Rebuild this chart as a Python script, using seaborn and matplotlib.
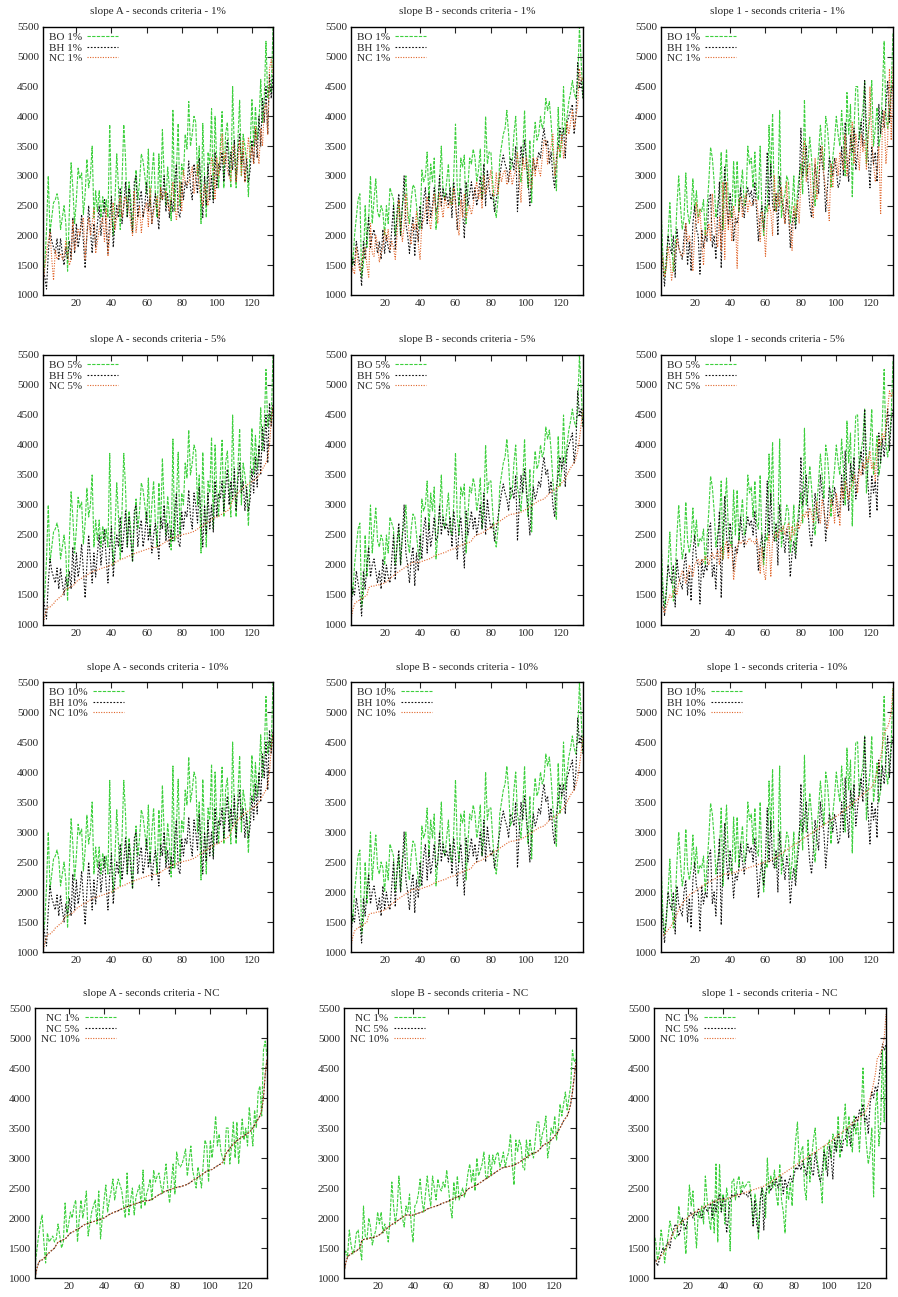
## Rejilla 4x3 de tiempos por instancia (slope A, slope B, slope 1)

import seaborn as sns
import matplotlib.pyplot as plt

# Instancias (eje x)
x = list(range(1, 133))

# Slope A
bo_a = [1300, 1500, 2100, 3000, 2050, 2300, 2550, 2600, 2700, 2550,
        2100, 2300, 2500, 2200, 1400, 2400, 3220, 2800, 2200, 2600,
        3130, 2950, 3050, 2350, 2700, 3280, 2800, 3000, 3500, 2300,
        2750, 2400, 2750, 2300, 2650, 2400, 2600, 2300, 3860, 2500,
        2000, 2600, 3370, 2800, 2100, 2900, 3860, 3300, 2300, 2900,
        2600, 2050, 2700, 3100, 2600, 2900, 3370, 3250, 3000, 2700,
        3450, 2500, 3000, 3400, 2700, 2300, 3370, 2600, 3780, 3000,
        2500, 3150, 2800, 2250, 4100, 2400, 3100, 3880, 2500, 3200,
        3000, 3700, 3450, 4250, 3500, 3700, 4000, 3900, 3000, 3500,
        2200, 3880, 3000, 2300, 3400, 3200, 4130, 2600, 4000, 3200,
        2800, 3500, 4080, 2800, 3700, 3900, 3300, 2800, 4500, 3400,
        2800, 3600, 4270, 3000, 3700, 3500, 3200, 2650, 3500, 4280,
        3500, 4160, 3600, 3900, 4620, 3900, 4300, 5260, 4300, 4500,
        4400, 5500]
bh_a = [1500, 1300, 1100, 1700, 2100, 1900, 1800, 1700, 1950, 1600,
        1950, 1700, 1500, 1800, 1600, 1900, 1600, 2300, 1700, 2200,
        1800, 2000, 2350, 1900, 1450, 2000, 2500, 2100, 1700, 2200,
        1800, 2200, 2500, 2000, 2300, 2600, 2100, 1700, 2300, 2650,
        1800, 2200, 2500, 2300, 2800, 2200, 2500, 2900, 2300, 2800,
        2400, 2050, 2900, 3000, 2300, 2600, 2750, 2300, 2500, 2900,
        2400, 2650, 2200, 2500, 2700, 2400, 2100, 2800, 2600, 3000,
        2400, 2700, 2300, 2600, 2400, 2900, 3200, 2400, 2300, 2900,
        2600, 2900, 2800, 3250, 2800, 2600, 3200, 3000, 2700, 3300,
        2800, 2300, 3000, 2500, 3200, 2600, 3000, 2550, 3400, 2800,
        3200, 3100, 3400, 2900, 3300, 3600, 3000, 3400, 3100, 3600,
        2900, 3400, 3700, 3200, 3400, 2900, 3300, 2900, 3100, 3600,
        3200, 3800, 3300, 4000, 3500, 4300, 3900, 4500, 3700, 4700,
        4300, 4700]
nc1_a = [1200, 1450, 1700, 1900, 2050, 1600, 1250, 1750, 1600, 1650,
         1700, 1600, 1650, 1900, 1700, 1500, 1600, 2250, 1750, 1900,
         2100, 2000, 2200, 2300, 1600, 2000, 2300, 2000, 2200, 2450,
         1700, 1900, 2100, 2200, 2300, 1900, 2450, 1650, 2000, 2300,
         2550, 2100, 2300, 2450, 2650, 2300, 2500, 2650, 2550, 2450,
         2200, 2000, 2750, 2050, 2300, 2500, 2050, 2350, 2450, 2550,
         2150, 2800, 2200, 2400, 2500, 2650, 2300, 2800, 2600, 2700,
         2750, 2550, 2400, 2650, 2900, 2500, 2250, 2600, 2900, 2400,
         3100, 2900, 2850, 2900, 3000, 3150, 2700, 2950, 3200, 2800,
         2650, 2500, 2850, 2700, 2500, 2900, 3300, 3200, 2600, 3300,
         3000, 3300, 3700, 3200, 3400, 3100, 3000, 2900, 3500, 3500,
         2900, 3200, 3600, 3000, 3600, 2900, 3300, 3650, 3300, 3500,
         3200, 3850, 3500, 3200, 3800, 3500, 4100, 4200, 3700, 4800,
         4950, 4700]
nc5_a = [1000, 1150, 1250, 1300, 1300, 1330, 1350, 1400, 1420, 1450,
         1470, 1500, 1550, 1600, 1610, 1620, 1640, 1650, 1680, 1720,
         1750, 1760, 1780, 1800, 1810, 1830, 1850, 1870, 1890, 1900,
         1910, 1920, 1930, 1940, 1950, 1960, 1970, 1980, 1990, 2000,
         2020, 2040, 2060, 2070, 2090, 2100, 2110, 2120, 2140, 2150,
         2160, 2170, 2190, 2200, 2210, 2220, 2230, 2240, 2250, 2260,
         2270, 2280, 2280, 2290, 2290, 2300, 2310, 2330, 2350, 2370,
         2390, 2400, 2420, 2440, 2450, 2460, 2470, 2480, 2490, 2500,
         2510, 2520, 2520, 2530, 2540, 2550, 2560, 2580, 2600, 2620,
         2640, 2650, 2680, 2700, 2720, 2740, 2760, 2780, 2790, 2800,
         2810, 2830, 2850, 2870, 2890, 2900, 2930, 3000, 3080, 3120,
         3160, 3200, 3230, 3260, 3290, 3310, 3330, 3350, 3370, 3390,
         3410, 3430, 3460, 3500, 3550, 3600, 3650, 3700, 3800, 4000,
         4400, 4650]
nc10_a = nc5_a  # practicamente iguales en la figura

# Slope B
bo_b = [1800, 1500, 2000, 2300, 2600, 2700, 1300, 1500, 2500, 1800,
        2300, 3000, 2200, 2600, 2950, 2400, 2300, 2500, 2400, 2000,
        2500, 2200, 2800, 2700, 2600, 2000, 2300, 2600, 2000, 2500,
        2700, 3000, 2400, 2200, 2600, 2850, 2800, 2500, 2200, 2100,
        3100, 2900, 3000, 3400, 2600, 3200, 2900, 3300, 2100, 2500,
        2900, 3500, 2700, 2600, 2900, 3200, 2600, 2500, 3000, 3870,
        2800, 2500, 3300, 3150, 3350, 2200, 2800, 3300, 3200, 3450,
        3300, 2900, 3100, 3450, 2600, 2900, 4000, 3200, 3400, 3400,
        2900, 2500, 2300, 2600, 3300, 3500, 3700, 3800, 4100, 3700,
        3100, 3200, 3700, 4000, 3300, 3100, 2900, 3400, 4100, 3200,
        2800, 3600, 2550, 3500, 3900, 3600, 3700, 4000, 3800, 3900,
        4300, 4100, 4250, 3900, 3400, 3100, 2750, 4150, 3300, 3600,
        4500, 3700, 4000, 4250, 4400, 4600, 4400, 4300, 4600, 5500,
        4900, 4300]
bh_b = [1300, 1600, 1500, 1900, 1700, 1500, 1150, 1900, 1600, 2000,
        2300, 1800, 2000, 2100, 1900, 1700, 1900, 1600, 2100, 1700,
        2000, 1800, 1700, 2100, 2500, 1750, 2400, 2700, 2000, 2500,
        3000, 2200, 2000, 1700, 2100, 2300, 1650, 2200, 1900, 2500,
        2100, 2600, 2800, 2200, 2700, 2300, 2500, 2800, 2400, 2500,
        3000, 2500, 2800, 2600, 2700, 2500, 2800, 2300, 2900, 2600,
        2100, 2600, 2800, 2400, 1950, 2900, 2500, 2700, 2900, 2600,
        2800, 2500, 2700, 3000, 2600, 3200, 2500, 3100, 2800, 2600,
        2700, 2400, 2600, 2800, 3000, 3200, 3350, 3200, 3100, 2900,
        3300, 3250, 3100, 3500, 2400, 3000, 3500, 3200, 3600, 3300,
        2900, 2500, 3000, 3300, 3100, 3200, 3400, 3300, 3600, 3800,
        3500, 3600, 3200, 3400, 3000, 2800, 3300, 3500, 3800, 3600,
        3800, 3300, 3900, 4000, 4100, 4200, 3700, 4000, 4900, 4500,
        4600, 4300]
nc1_b = [1350, 1450, 1350, 1800, 1550, 1400, 1500, 1750, 1800, 1500,
         1300, 2200, 1700, 1650, 2000, 1850, 1550, 1700, 1800, 2100,
         1900, 2100, 1750, 1900, 1800, 1600, 2000, 2600, 2200, 1900,
         2150, 2700, 2300, 2000, 1850, 2200, 2100, 2400, 1850, 1600,
         2200, 2250, 2400, 2650, 2300, 2100, 2400, 2700, 2400, 2200,
         2700, 2500, 2300, 2650, 2500, 2450, 2600, 2500, 2800, 2500,
         2200, 2000, 2600, 2300, 2700, 2300, 2400, 2500, 2350, 2500,
         2750, 2900, 2600, 2800, 2450, 3000, 2700, 2800, 2900, 3100,
         2700, 2650, 3050, 2700, 3050, 2900, 3050, 3100, 2850, 2950,
         3100, 2850, 3000, 3100, 3400, 2900, 2550, 3300, 3100, 3300,
         3200, 2850, 2800, 3300, 3000, 3300, 3100, 3000, 3300, 3600,
         3600, 3200, 3400, 3500, 3700, 3000, 3200, 3500, 3400, 3700,
         3300, 3500, 3900, 3700, 3900, 4100, 3800, 4000, 4200, 4800,
         4600, 4650]
nc5_b = [1100, 1250, 1350, 1380, 1400, 1420, 1440, 1450, 1480, 1500,
         1620, 1640, 1650, 1650, 1660, 1670, 1670, 1680, 1690, 1700,
         1720, 1740, 1770, 1800, 1820, 1850, 1870, 1890, 1910, 1930,
         1950, 1970, 1990, 2010, 2030, 2050, 2050, 2050, 2040, 2050,
         2060, 2070, 2080, 2090, 2100, 2110, 2130, 2150, 2160, 2170,
         2180, 2190, 2200, 2210, 2220, 2240, 2250, 2260, 2270, 2280,
         2300, 2310, 2320, 2340, 2350, 2360, 2370, 2380, 2400, 2450,
         2480, 2500, 2510, 2520, 2540, 2550, 2570, 2590, 2610, 2630,
         2650, 2670, 2690, 2710, 2730, 2750, 2770, 2790, 2810, 2830,
         2840, 2850, 2850, 2860, 2860, 2870, 2880, 2900, 2910, 2930,
         2950, 2970, 2990, 3010, 3030, 3050, 3070, 3080, 3090, 3100,
         3130, 3160, 3200, 3220, 3240, 3250, 3270, 3300, 3330, 3370,
         3400, 3450, 3500, 3560, 3620, 3660, 3700, 3780, 3900, 4100,
         4350, 4600]
nc10_b = nc5_b

# Slope 1
bo_c = [2500, 1700, 1300, 1500, 2000, 2550, 1900, 1400, 1800, 2500,
        3000, 2500, 2100, 2300, 3050, 2400, 2200, 2400, 2950, 2400,
        2750, 2300, 2450, 2400, 2600, 2000, 2450, 2900, 3480, 3300,
        2900, 2300, 2500, 2700, 3400, 2100, 2900, 3450, 2600, 2400,
        2300, 3250, 2500, 3250, 2400, 2800, 3100, 2500, 2600, 3500,
        3200, 3300, 2800, 3400, 2700, 2600, 3500, 2400, 2000, 2500,
        2400, 3850, 3000, 4050, 2500, 2400, 2600, 4100, 2300, 2600,
        2700, 3000, 2900, 2200, 2500, 3000, 2200, 2700, 3000, 3200,
        2700, 4280, 3000, 3200, 3650, 3300, 2800, 2500, 3000, 3400,
        3850, 3500, 3100, 4000, 3800, 3400, 2800, 3300, 3600, 4000,
        3700, 3500, 4100, 3600, 3000, 4400, 3700, 4200, 2650, 3800,
        4500, 4500, 3600, 3900, 4100, 4600, 3200, 3700, 4000, 4600,
        3500, 3800, 4150, 3500, 3700, 4400, 5260, 4000, 3800, 4100,
        4500, 5400]
bh_c = [1900, 1500, 1150, 1600, 2000, 1800, 1700, 2000, 1300, 2100,
        1800, 1700, 1600, 2000, 2200, 1500, 1900, 1400, 2200, 2500,
        2100, 2000, 1350, 2100, 1800, 2000, 1900, 2600, 2700, 1800,
        2000, 1600, 2400, 2900, 1450, 2500, 3150, 2500, 2200, 2700,
        2400, 1900, 2300, 2200, 2400, 2800, 2500, 2300, 2600, 2800,
        2650, 2750, 2500, 2900, 2400, 1900, 2300, 2500, 2100, 2600,
        3400, 2500, 3200, 2500, 2400, 2700, 2000, 3000, 2600, 2500,
        2200, 2600, 2400, 1800, 2200, 2400, 2100, 2500, 2800, 3800,
        3000, 3200, 3500, 2900, 2500, 2300, 2700, 3200, 2900, 2700,
        3500, 3200, 3000, 2400, 2800, 3300, 3200, 3000, 3300, 3100,
        2800, 2900, 3500, 3000, 3900, 3300, 2900, 3700, 3400, 3800,
        3100, 3400, 3700, 3900, 3500, 4600, 3800, 3300, 2800, 3500,
        3200, 3400, 2900, 4200, 3700, 4100, 3800, 4200, 4600, 3900,
        4400, 4600]
nc1_c = [1750, 1600, 1300, 1450, 1800, 1600, 1250, 1500, 1700, 1950,
         1800, 1700, 1650, 1700, 2200, 1900, 2000, 1800, 1400, 2000,
         2550, 2200, 2450, 1900, 1500, 2100, 2000, 2200, 1900, 2700,
         2300, 2000, 1800, 2300, 1750, 2900, 1600, 2900, 2100, 2400,
         1900, 2500, 2300, 1450, 2600, 2650, 2300, 2600, 2700, 2400,
         2600, 2500, 2550, 2600, 2600, 2300, 1900, 2400, 2200, 1650,
         2300, 2500, 2400, 2000, 3000, 2400, 2700, 2500, 2800, 2400,
         2200, 2900, 2300, 2100, 1750, 2500, 2300, 2600, 2200, 2900,
         3300, 3600, 2900, 3100, 3200, 2500, 2300, 3300, 2600, 3000,
         3300, 3500, 3000, 2800, 2600, 2250, 3200, 2800, 3200, 3300,
         3000, 3400, 3300, 3100, 3700, 3000, 3300, 3500, 3900, 3200,
         3700, 3400, 3100, 3700, 3400, 3600, 3100, 3700, 4500, 3600,
         3200, 2900, 3100, 3500, 2350, 3800, 4100, 3200, 3600, 4800,
         3600, 4850]
nc5_c = [1250, 1300, 1200, 1300, 1400, 1500, 1450, 1550, 1600, 1500,
         1700, 1800, 1900, 1850, 1700, 1800, 2000, 1900, 1800, 2000,
         2050, 2100, 2000, 2100, 2050, 2150, 2100, 2000, 2150, 2200,
         2100, 2150, 2250, 2000, 2300, 2100, 2300, 2400, 2100, 2350,
         2300, 1750, 2000, 2300, 2400, 2350, 2400, 2400, 2350, 2400,
         2450, 2400, 2400, 2350, 2450, 2300, 1850, 2300, 1900, 1750,
         2300, 2500, 1800, 2400, 2500, 2550, 2450, 2600, 2550, 2650,
         2500, 2600, 2700, 2400, 2650, 2500, 2600, 2700, 2600, 2700,
         2850, 2800, 2900, 2800, 2950, 2850, 2700, 2900, 3050, 2800,
         2700, 3100, 2900, 2700, 2600, 2800, 3100, 3000, 2700, 3200,
         3000, 2650, 3300, 3100, 3400, 3300, 3100, 3300, 3300, 3500,
         3400, 3200, 3600, 3500, 3700, 3600, 3800, 3700, 3900, 3600,
         3700, 3400, 3900, 4100, 4000, 4200, 4100, 4300, 4600, 4900,
         4800, 4900]
nc10_c = [1250, 1270, 1300, 1330, 1370, 1400, 1450, 1500, 1570, 1630,
          1700, 1750, 1800, 1850, 1880, 1910, 1950, 1970, 1990, 2000,
          2030, 2050, 2070, 2100, 2110, 2120, 2150, 2170, 2180, 2200,
          2210, 2230, 2250, 2260, 2270, 2290, 2300, 2300, 2300, 2310,
          2310, 2320, 2330, 2340, 2350, 2360, 2370, 2380, 2390, 2400,
          2410, 2420, 2430, 2440, 2450, 2460, 2470, 2480, 2490, 2500,
          2510, 2520, 2530, 2550, 2560, 2580, 2600, 2620, 2640, 2660,
          2680, 2700, 2720, 2740, 2760, 2780, 2800, 2820, 2840, 2860,
          2880, 2900, 2920, 2940, 2960, 2980, 3000, 3020, 3040, 3060,
          3080, 3100, 3120, 3140, 3160, 3180, 3200, 3220, 3240, 3260,
          3280, 3300, 3330, 3350, 3380, 3400, 3420, 3450, 3470, 3500,
          3520, 3550, 3580, 3600, 3630, 3650, 3680, 3700, 3720, 3750,
          3800, 3900, 4000, 4100, 4250, 4400, 4650, 4700, 4750, 4850,
          5000, 5400]

slopes = ['A', 'B', '1']
criterios = ['1%', '5%', '10%', 'NC']
series = {
    'A': dict(bo=bo_a, bh=bh_a, nc1=nc1_a, nc5=nc5_a, nc10=nc10_a),
    'B': dict(bo=bo_b, bh=bh_b, nc1=nc1_b, nc5=nc5_b, nc10=nc10_b),
    '1': dict(bo=bo_c, bh=bh_c, nc1=nc1_c, nc5=nc5_c, nc10=nc10_c),
}

# Estilo tipo gnuplot
sns.set_style('white')
plt.rcParams['font.family'] = ['Liberation Serif', 'DejaVu Serif']
plt.rcParams['axes.edgecolor'] = 'black'

colores = ['#3dd03d', '#111111', '#e0652a']
estilos = [(0, (3, 1.2)), (0, (1.5, 1.5)), (0, (1, 1.3))]

W, H = 898, 1297
filas_y = [(27, 295), (355, 625), (682, 952), (1008, 1278)]
cols_x = [[(43, 273), (351, 583), (661, 893)]] * 3 + [[(35, 267), (344, 576), (654, 886)]]

fig = plt.figure(figsize=(W / 100, H / 100), dpi=100)

for i, crit in enumerate(criterios):
    for j, slope in enumerate(slopes):
        s = series[slope]
        if crit == 'NC':
            datos = [('NC 1%', s['nc1']), ('NC 5%', s['nc5']), ('NC 10%', s['nc10'])]
        else:
            nc = {'1%': s['nc1'], '5%': s['nc5'], '10%': s['nc10']}[crit]
            datos = [('BO ' + crit, s['bo']), ('BH ' + crit, s['bh']), ('NC ' + crit, nc)]

        l, r = cols_x[i][j]
        t, b = filas_y[i]
        ax = fig.add_axes([l / W, 1 - b / H, (r - l) / W, (b - t) / H])

        for k, (etiqueta, valores) in enumerate(datos):
            sns.lineplot(x=x, y=valores, ax=ax, color=colores[k], linewidth=0.8,
                         linestyle=estilos[k], label=etiqueta)

        ax.set_xlim(1, 132)
        ax.set_ylim(1000, 5500)
        ax.set_xticks(range(20, 121, 20))
        ax.set_yticks(range(1000, 5501, 500))
        ax.set_xlabel('')
        ax.set_ylabel('')
        ax.tick_params(direction='in', top=True, right=True, length=4, width=0.8,
                       labelsize=8, pad=3)
        for sp in ax.spines.values():
            sp.set_linewidth(1)
        ax.set_title(f'slope {slope} - seconds criteria - {crit}', fontsize=8, pad=9)
        ax.legend(loc='upper left', markerfirst=False, frameon=False, fontsize=8,
                  handlelength=2.8, handletextpad=0.5, labelspacing=0.05,
                  borderaxespad=0.3, borderpad=0.2)

plt.savefig('out.png', dpi=100)
